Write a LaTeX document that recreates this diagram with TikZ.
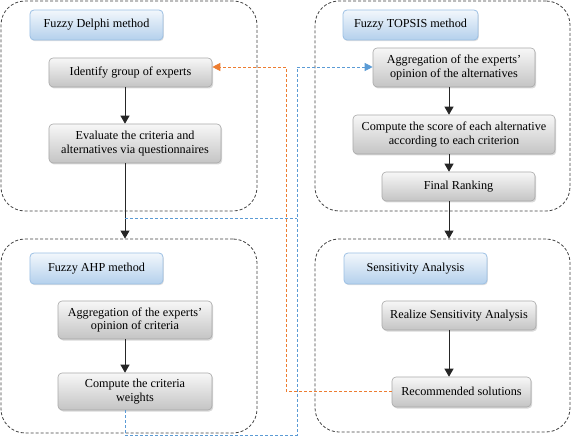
\documentclass[tikz,border=0pt]{standalone}
\usepackage{fontspec}
\setmainfont{Liberation Serif}
\usetikzlibrary{arrows.meta,shadows,calc}
\definecolor{hdrTop}{HTML}{F2F7FC}
\definecolor{hdrBot}{HTML}{B4D0EC}
\definecolor{hdrLine}{HTML}{9CC0E4}
\definecolor{boxTop}{HTML}{F7F7F7}
\definecolor{boxBot}{HTML}{C4C4C4}
\definecolor{boxLine}{HTML}{A8A8A8}
\definecolor{linkOrange}{HTML}{ED7D31}
\definecolor{linkBlue}{HTML}{5B9BD5}
\begin{document}
\begin{tikzpicture}[x=1bp,y=-1bp,
  every node/.style={font=\fontsize{12.2bp}{13.5bp}\selectfont, align=center, inner sep=0pt},
  cont/.style={draw=black!75, line width=0.8bp, dash pattern=on 3bp off 2bp, rounded corners=24bp},
  hdr/.style={draw=hdrLine, line width=0.8bp, rounded corners=4bp, top color=hdrTop, bottom color=hdrBot,
     drop shadow={shadow xshift=0.8bp, shadow yshift=-1.2bp, opacity=0.25}},
  gbox/.style={draw=boxLine, line width=0.6bp, rounded corners=4bp, top color=boxTop, bottom color=boxBot,
     drop shadow={shadow xshift=1.2bp, shadow yshift=-1.5bp, opacity=0.3}},
  arr/.style={draw=black!85, line width=0.9bp, -{Triangle[width=9bp,length=8bp]}},
  olink/.style={draw=linkOrange, line width=0.9bp, dash pattern=on 3bp off 2bp},
  blink/.style={draw=linkBlue, line width=0.9bp, dash pattern=on 3bp off 2bp},
]
\useasboundingbox (0,0) rectangle (572,436);

% containers
\node[cont, minimum width=256bp, minimum height=210bp] (delC) at (129,106) {};
\node[cont, minimum width=255bp, minimum height=210bp] (topC) at (442.5,106) {};
\node[cont, minimum width=256bp, minimum height=194bp] (ahpC) at (129,336) {};
\node[cont, minimum width=255bp, minimum height=193bp] (senC) at (442.5,335.5) {};

% headers
\node[hdr, minimum width=133bp, minimum height=30bp] (delH) at (96.5,25) {\raisebox{3bp}{Fuzzy Delphi method}};
\node[hdr, minimum width=135bp, minimum height=30bp] (topH) at (410.5,25) {\raisebox{3bp}{Fuzzy TOPSIS method}};
\node[hdr, minimum width=133bp, minimum height=31bp] (ahpH) at (96.5,268.5) {\raisebox{3bp}{Fuzzy AHP method}};
\node[hdr, minimum width=143bp, minimum height=31bp] (senH) at (415.5,268.5) {\raisebox{3bp}{Sensitivity Analysis}};

% process boxes
\node[gbox, minimum width=163bp, minimum height=29bp] (id) at (130.5,72.5) {\raisebox{2bp}{Identify group of experts}};
\node[gbox, minimum width=172bp, minimum height=39bp] (ev) at (135,143.5) {Evaluate the criteria and\\alternatives via questionnaires};
\node[gbox, minimum width=154bp, minimum height=38bp] (agc) at (135,320) {Aggregation of the experts'\\opinion of criteria};
\node[gbox, minimum width=154bp, minimum height=37bp] (cw) at (135,391.5) {Compute the criteria\\weights};
\node[gbox, minimum width=162bp, minimum height=39bp] (aga) at (454,67.5) {Aggregation of the experts'\\opinion of the alternatives};
\node[gbox, minimum width=202bp, minimum height=39bp] (cs) at (454,134.5) {Compute the score of each alternative\\according to each criterion};
\node[gbox, minimum width=153bp, minimum height=29bp] (fr) at (458.5,186.5) {\raisebox{2bp}{Final Ranking}};
\node[gbox, minimum width=154bp, minimum height=29bp] (rz) at (459,315.5) {\raisebox{2bp}{Realize Sensitivity Analysis}};
\node[gbox, minimum width=139bp, minimum height=30bp] (rec) at (461.5,392) {\raisebox{2bp}{Recommended solutions}};

% helper coordinates
\coordinate (cL) at (125,0);
\coordinate (cR) at (449,0);
\coordinate (oX) at (286,67);
\coordinate (bTop) at (297,67);
\coordinate (bMid) at (297,218);
\coordinate (bBot) at (297,435);

% black flow arrows
\draw[arr] (id.south -| cL) -- (ev.north -| cL);
\draw[arr] (ev.south -| cL) -- (ahpC.north -| cL);
\draw[arr] (agc.south -| cL) -- (cw.north -| cL);
\draw[arr] (aga.south -| cR) -- (cs.north -| cR);
\draw[arr] (cs.south -| cR) -- (fr.north -| cR);
\draw[arr] (fr.south -| cR) -- (senC.north -| cR);
\draw[arr] (rz.south -| cR) -- (rec.north -| cR);

% orange feedback link
\draw[olink, -{Triangle[width=8bp,length=8bp]}] (rec.west |- 0,391) -- (oX |- 0,391) -- (oX) -- (id.east |- oX);

% blue links
\draw[blink] (cw.south -| cL) -- (bBot -| cL) -- (bBot) -- (bTop);
\draw[blink] (bMid -| cL) -- (bMid);
\draw[blink, -{Triangle[width=8bp,length=8bp]}] (bTop) -- (aga.west |- bTop);
\end{tikzpicture}
\end{document}
